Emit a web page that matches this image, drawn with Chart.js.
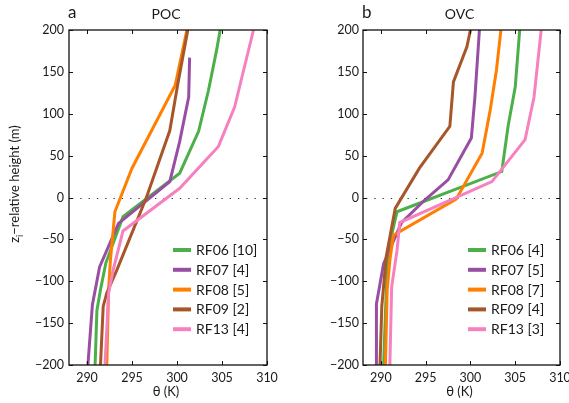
<!DOCTYPE html>
<html><head><meta charset="utf-8">
<script src="https://cdn.jsdelivr.net/npm/chart.js@4.4.1/dist/chart.umd.min.js"></script>
<style>
html,body{margin:0;padding:0;background:#fff;}
#wrap{position:relative;width:569px;height:403px;overflow:hidden;background:#fff;}
canvas{position:absolute;top:0;}
</style></head><body>
<div id="wrap">
<canvas id="cA" width="290" height="403" style="left:0px"></canvas>
<canvas id="cB" width="279" height="403" style="left:290px"></canvas>
</div>
<script>
// ---- data ----
const seriesNames = ['RF06', 'RF07', 'RF08', 'RF09', 'RF13'];
const pocCounts = [10, 4, 5, 2, 4];
const ovcCounts = [4, 5, 7, 4, 3];
const xTickValues = [290, 295, 300, 305, 310];
const yTickValues = [-200, -150, -100, -50, 0, 50, 100, 150, 200];

// POC panel (theta in K, zi-relative height in m)
const pocRF06Theta = [290.9, 291.1, 291.5, 292.1, 294.0, 300.3, 302.4, 303.5, 304.4, 304.8];
const pocRF06Z     = [-200, -135, -110, -78, -23, 29, 79, 128, 176, 200];
const pocRF07Theta = [290.1, 290.6, 291.4, 293.5, 299.2, 300.3, 301.3, 301.4];
const pocRF07Z     = [-200, -128, -83, -31, 19, 67, 120, 167];
const pocRF08Theta = [292.2, 292.4, 292.6, 293.1, 295.0, 299.8, 301.1];
const pocRF08Z     = [-200, -110, -75, -17, 35, 134, 200];
const pocRF09Theta = [291.5, 291.8, 292.2, 293.3, 296.6, 299.2, 300.1, 301.2];
const pocRF09Z     = [-200, -130, -114, -87, 0, 80, 136, 200];
const pocRF13Theta = [292.0, 292.4, 292.9, 294.0, 300.3, 304.6, 306.4, 308.5];
const pocRF13Z     = [-200, -114, -87, -40, 11, 61, 108, 200];

// OVC panel
const ovcRF06Theta = [290.3, 290.6, 290.8, 291.8, 303.5, 304.2, 305.0, 305.5];
const ovcRF06Z     = [-200, -110, -63, -17, 31, 85, 132, 200];
const ovcRF07Theta = [289.5, 289.5, 290.3, 292.3, 294.9, 297.5, 300.1, 300.5, 301.0];
const ovcRF07Z     = [-200, -127, -79, -30, -3, 21, 71, 120, 200];
const ovcRF08Theta = [290.5, 290.7, 291.0, 291.4, 298.4, 301.3, 302.2, 302.9, 303.4];
const ovcRF08Z     = [-200, -110, -75, -45, -2, 53, 104, 152, 200];
const ovcRF09Theta = [289.9, 290.1, 290.6, 291.6, 294.3, 297.7, 298.1, 299.6, 300.0];
const ovcRF09Z     = [-200, -130, -70, -13, 35, 85, 138, 180, 200];
const ovcRF13Theta = [291.0, 291.2, 291.8, 292.1, 302.4, 306.1, 307.1, 307.9];
const ovcRF13Z     = [-200, -107, -63, -30, 19, 69, 120, 200];

const seriesColors = ['#4daf4a', '#984ea3', '#ff7f00', '#a65628', '#f781bf'];
const FONT = 'Lato, "Open Sans", sans-serif';
const TXT = '#1a1a1a';

function pts(th, z) { return th.map((t, i) => ({ x: t, y: z[i] })); }

function makeDatasets(thetas, zs, counts) {
  return thetas.map((th, i) => ({
    label: seriesNames[i] + ' [' + counts[i] + ']',
    data: pts(th, zs[i]),
    showLine: true,
    borderColor: seriesColors[i],
    backgroundColor: seriesColors[i],
    borderWidth: 3,
    pointRadius: 0,
    pointHoverRadius: 0,
    tension: 0,
    fill: false,
    order: 10 - i
  }));
}

function panelPlugin(cfg) {
  return {
    id: 'panel' + cfg.letter,
    beforeDatasetsDraw(chart) {
      const { ctx, chartArea: a, scales: { y } } = chart;
      const y0 = Math.round(y.getPixelForValue(0)) + 0.5;
      ctx.save();
      ctx.strokeStyle = '#333';
      ctx.lineWidth = 1.2;
      ctx.setLineDash([1.3, 7]);
      ctx.beginPath();
      ctx.moveTo(a.left + 3, y0);
      ctx.lineTo(a.right, y0);
      ctx.stroke();
      ctx.restore();
    },
    afterDraw(chart) {
      const { ctx, chartArea: a, scales: { x, y } } = chart;
      ctx.save();
      // frame
      ctx.strokeStyle = '#111';
      ctx.lineWidth = 1.3;
      ctx.strokeRect(a.left, a.top, a.right - a.left, a.bottom - a.top);
      // inward ticks
      ctx.lineWidth = 1;
      ctx.beginPath();
      xTickValues.forEach(v => {
        const px = Math.round(x.getPixelForValue(v)) + 0.5;
        ctx.moveTo(px, a.bottom); ctx.lineTo(px, a.bottom - 4);
        ctx.moveTo(px, a.top); ctx.lineTo(px, a.top + 4);
      });
      yTickValues.forEach(v => {
        const py = Math.round(y.getPixelForValue(v)) + 0.5;
        ctx.moveTo(a.left, py); ctx.lineTo(a.left + 4, py);
        ctx.moveTo(a.right, py); ctx.lineTo(a.right - 4, py);
      });
      ctx.stroke();
      // panel letter and title
      ctx.fillStyle = TXT;
      ctx.textBaseline = 'middle';
      ctx.textAlign = 'left';
      ctx.font = '17px ' + FONT;
      ctx.fillText(cfg.letter, a.left - 1, 13);
      ctx.textAlign = 'center';
      ctx.font = '14px ' + FONT;
      ctx.fillText(cfg.title, (a.left + a.right) / 2 - 2, 14);
      // x title
      ctx.font = '13px ' + FONT;
      ctx.fillText('\u03b8 (K)', (a.left + a.right) / 2 - 2, 392);
      // y title with subscript
      if (cfg.yTitle) {
        ctx.save();
        ctx.translate(15, 184);
        ctx.rotate(-Math.PI / 2);
        ctx.textAlign = 'left';
        ctx.textBaseline = 'middle';
        ctx.font = '13px ' + FONT;
        const wz = ctx.measureText('z').width;
        const rest = '\u2212relative height (m)';
        const wr = ctx.measureText(rest).width;
        ctx.font = '9px ' + FONT;
        const wi = ctx.measureText('i').width;
        const total = wz + wi + wr;
        let sx = -total / 2;
        ctx.font = '13px ' + FONT;
        ctx.fillText('z', sx, 0);
        ctx.font = '9px ' + FONT;
        ctx.fillText('i', sx + wz, 5);
        ctx.font = '13px ' + FONT;
        ctx.fillText(rest, sx + wz + wi, 0);
        ctx.restore();
      }
      // legend
      ctx.textAlign = 'left';
      ctx.textBaseline = 'middle';
      ctx.font = '14px ' + FONT;
      chart.data.datasets.forEach((ds, i) => {
        const ry = cfg.legendY + i * 19.8;
        ctx.strokeStyle = ds.borderColor;
        ctx.lineWidth = 4;
        ctx.beginPath();
        ctx.moveTo(cfg.legendX, ry);
        ctx.lineTo(cfg.legendX + 18, ry);
        ctx.stroke();
        ctx.fillStyle = TXT;
        ctx.fillText(ds.label, cfg.legendX + 23, ry + 0.5);
      });
      ctx.restore();
    }
  };
}

function makeChart(canvasId, datasets, cfg) {
  return new Chart(document.getElementById(canvasId), {
    type: 'scatter',
    data: { datasets },
    options: {
      responsive: false,
      animation: false,
      events: [],
      layout: { padding: { left: 0, top: 30, right: cfg.padRight, bottom: 18 } },
      plugins: { legend: { display: false }, tooltip: { enabled: false } },
      scales: {
        x: {
          type: 'linear', min: 288, max: 310,
          grid: { display: false, drawTicks: false },
          border: { display: false },
          afterBuildTicks: s => { s.ticks = xTickValues.map(v => ({ value: v })); },
          afterFit: s => { s.height = 20; s.paddingLeft = 0; s.paddingRight = 0; },
          ticks: { padding: 5, color: TXT, font: { family: FONT, size: 12.5 }, maxRotation: 0, autoSkip: false }
        },
        y: {
          type: 'linear', min: -200, max: 200,
          grid: { display: false, drawTicks: false },
          border: { display: false },
          afterBuildTicks: s => { s.ticks = yTickValues.map(v => ({ value: v })); },
          afterFit: s => { s.width = cfg.yWidth; s.paddingTop = 0; s.paddingBottom = 0; },
          ticks: {
            padding: cfg.yPad, color: TXT, font: { family: FONT, size: 12.5 }, autoSkip: false,
            callback: v => String(v).replace('-', '\u2212')
          }
        }
      }
    },
    plugins: [panelPlugin(cfg)]
  });
}

function build() {
  makeChart('cA',
    makeDatasets([pocRF06Theta, pocRF07Theta, pocRF08Theta, pocRF09Theta, pocRF13Theta],
                 [pocRF06Z, pocRF07Z, pocRF08Z, pocRF09Z, pocRF13Z], pocCounts),
    { letter: 'a', title: 'POC', yTitle: true, yWidth: 69, yPad: 5, padRight: 23, legendX: 173, legendY: 250 });
  makeChart('cB',
    makeDatasets([ovcRF06Theta, ovcRF07Theta, ovcRF08Theta, ovcRF09Theta, ovcRF13Theta],
                 [ovcRF06Z, ovcRF07Z, ovcRF08Z, ovcRF09Z, ovcRF13Z], ovcCounts),
    { letter: 'b', title: 'OVC', yTitle: false, yWidth: 73, yPad: 4, padRight: 9, legendX: 178, legendY: 250 });
}

if (document.fonts && document.fonts.load) {
  Promise.all([document.fonts.load('13px Lato'), document.fonts.load('17px Lato')]).then(build, build);
} else { build(); }
</script>
</body></html>
